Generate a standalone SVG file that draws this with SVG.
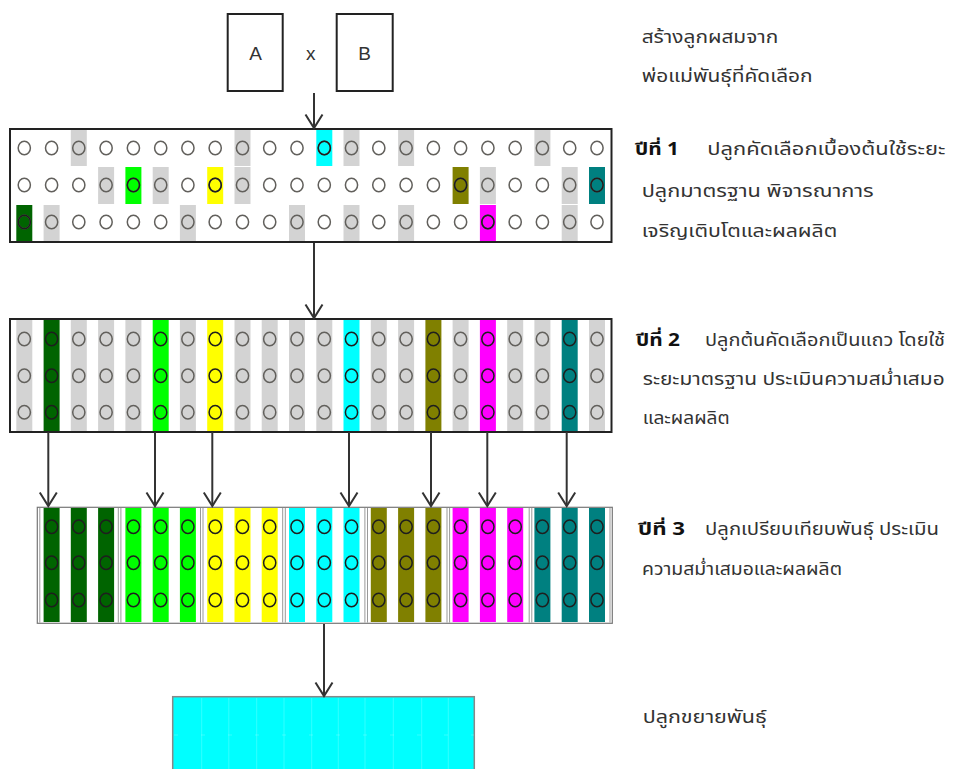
<svg xmlns="http://www.w3.org/2000/svg" xmlns:xlink="http://www.w3.org/1999/xlink" width="958" height="769" viewBox="0 0 958 769">
<style>
.box{fill:none;stroke:#222;stroke-width:2}
.pbox{fill:#fff;stroke:#222;stroke-width:2}
.g{fill:#d3d3d3}
.dg{fill:#006400}.lm{fill:#00ff00}.ye{fill:#ffff00}.cy{fill:#00ffff}.ol{fill:#808000}.mg{fill:#ff00ff}.tl{fill:#008080}
.c{fill:none;stroke:#62605c;stroke-width:1.5}
.cd{fill:none;stroke:#1e1e1e;stroke-width:1.5}
.conn{stroke:#333;stroke-width:2;fill:none}
.t{font-family:Tahoma,'Noto Sans Thai','Leelawadee UI','Noto Sans',sans-serif;font-size:17px;fill:#333}
.b{font-weight:bold;fill:#111}
.lat{font-family:'Liberation Sans',Arial,sans-serif;font-size:19px;fill:#333}
.g3{fill:none;stroke:#999;stroke-width:1}
</style>
<defs>
<marker id="ah" markerUnits="userSpaceOnUse" orient="auto" overflow="visible" refX="0" refY="0" markerWidth="20" markerHeight="20">
<path d="M-13.5,-8.5 L0,0 L-13.5,8.5" fill="none" stroke="#333" stroke-width="2"/>
</marker>
<g id="col1"><ellipse cx="0" cy="148" rx="6.1" ry="6.8"/><ellipse cx="0" cy="185" rx="6.1" ry="6.8"/><ellipse cx="0" cy="222" rx="6.1" ry="6.8"/></g>
<g id="col2"><ellipse cx="0" cy="339" rx="6.1" ry="6.8"/><ellipse cx="0" cy="375.7" rx="6.1" ry="6.8"/><ellipse cx="0" cy="412.3" rx="6.1" ry="6.8"/></g>
<g id="col3"><ellipse cx="0" cy="526.7" rx="6.1" ry="6.8"/><ellipse cx="0" cy="562.7" rx="6.1" ry="6.8"/><ellipse cx="0" cy="600" rx="6.1" ry="6.8"/></g>
<ellipse id="dot" cx="0" cy="0" rx="6.1" ry="6.8"/>
</defs>
<rect width="958" height="769" fill="#fff"/>

<g id="parentA"><rect class="pbox" x="227.7" y="14" width="55" height="77"/><text class="lat" x="255.5" y="60" text-anchor="middle">A</text></g>
<g id="cross"><text class="lat" x="310.7" y="60" text-anchor="middle">x</text></g>
<g id="parentB"><rect class="pbox" x="336.7" y="14" width="56" height="77"/><text class="lat" x="364.7" y="60" text-anchor="middle">B</text></g>

<g id="year1-plot">
<rect x="10" y="129" width="601.5" height="113" fill="#fff"/>
<rect class="g" x="70.8" y="130" width="16" height="36"/>
<rect class="g" x="234.5" y="130" width="16" height="36"/>
<rect class="cy" x="316.3" y="130" width="16" height="36"/>
<rect class="g" x="343.5" y="130" width="16" height="36"/>
<rect class="g" x="398.1" y="130" width="16" height="36"/>
<rect class="g" x="534.4" y="130" width="16" height="36"/>
<rect class="g" x="98.1" y="167" width="16" height="37"/>
<rect class="lm" x="125.4" y="167" width="16" height="37"/>
<rect class="g" x="152.7" y="167" width="16" height="37"/>
<rect class="ye" x="207.2" y="167" width="16" height="37"/>
<rect class="g" x="234.5" y="167" width="16" height="37"/>
<rect class="ol" x="452.6" y="167" width="16" height="37"/>
<rect class="g" x="479.9" y="167" width="16" height="37"/>
<rect class="g" x="561.7" y="167" width="16" height="37"/>
<rect class="tl" x="589" y="167" width="16" height="37"/>
<rect class="dg" x="16.3" y="205" width="16" height="36"/>
<rect class="g" x="43.6" y="205" width="16" height="36"/>
<rect class="g" x="179.9" y="205" width="16" height="36"/>
<rect class="g" x="289" y="205" width="16" height="36"/>
<rect class="g" x="343.5" y="205" width="16" height="36"/>
<rect class="g" x="398.1" y="205" width="16" height="36"/>
<rect class="mg" x="479.9" y="205" width="16" height="36"/>
<rect class="g" x="561.7" y="205" width="16" height="36"/>
<g class="c">
<use href="#col1" x="24.3"/><use href="#col1" x="51.6"/><use href="#col1" x="78.8"/><use href="#col1" x="106.1"/><use href="#col1" x="133.4"/><use href="#col1" x="160.7"/><use href="#col1" x="187.9"/><use href="#col1" x="215.2"/><use href="#col1" x="242.5"/><use href="#col1" x="269.7"/><use href="#col1" x="297"/><use href="#col1" x="324.3"/><use href="#col1" x="351.5"/><use href="#col1" x="378.8"/><use href="#col1" x="406.1"/><use href="#col1" x="433.4"/><use href="#col1" x="460.6"/><use href="#col1" x="487.9"/><use href="#col1" x="515.2"/><use href="#col1" x="542.4"/><use href="#col1" x="569.7"/><use href="#col1" x="597"/>
</g>
<g class="cd">
<use href="#dot" x="324.3" y="148"/><use href="#dot" x="133.4" y="185"/><use href="#dot" x="215.2" y="185"/><use href="#dot" x="460.6" y="185"/><use href="#dot" x="597" y="185"/><use href="#dot" x="24.3" y="222"/><use href="#dot" x="487.9" y="222"/>
</g>
<rect class="box" x="10" y="129" width="601.5" height="113"/>
</g>

<g id="year2-plot">
<rect x="10" y="319" width="601.5" height="113" fill="#fff"/>
<g>
<rect class="g" x="16.3" y="320" width="16" height="111"/>
<rect class="dg" x="43.6" y="320" width="16" height="111"/>
<rect class="g" x="70.8" y="320" width="16" height="111"/>
<rect class="g" x="98.1" y="320" width="16" height="111"/>
<rect class="g" x="125.4" y="320" width="16" height="111"/>
<rect class="lm" x="152.7" y="320" width="16" height="111"/>
<rect class="g" x="179.9" y="320" width="16" height="111"/>
<rect class="ye" x="207.2" y="320" width="16" height="111"/>
<rect class="g" x="234.5" y="320" width="16" height="111"/>
<rect class="g" x="261.7" y="320" width="16" height="111"/>
<rect class="g" x="289" y="320" width="16" height="111"/>
<rect class="g" x="316.3" y="320" width="16" height="111"/>
<rect class="cy" x="343.5" y="320" width="16" height="111"/>
<rect class="g" x="370.8" y="320" width="16" height="111"/>
<rect class="g" x="398.1" y="320" width="16" height="111"/>
<rect class="ol" x="425.4" y="320" width="16" height="111"/>
<rect class="g" x="452.6" y="320" width="16" height="111"/>
<rect class="mg" x="479.9" y="320" width="16" height="111"/>
<rect class="g" x="507.2" y="320" width="16" height="111"/>
<rect class="g" x="534.4" y="320" width="16" height="111"/>
<rect class="tl" x="561.7" y="320" width="16" height="111"/>
<rect class="g" x="589" y="320" width="16" height="111"/>
</g>
<g class="c">
<use href="#col2" x="24.3"/><use href="#col2" x="78.8"/><use href="#col2" x="106.1"/><use href="#col2" x="133.4"/><use href="#col2" x="187.9"/><use href="#col2" x="242.5"/><use href="#col2" x="269.7"/><use href="#col2" x="297"/><use href="#col2" x="324.3"/><use href="#col2" x="378.8"/><use href="#col2" x="406.1"/><use href="#col2" x="460.6"/><use href="#col2" x="515.2"/><use href="#col2" x="542.4"/><use href="#col2" x="597"/>
</g>
<g class="cd">
<use href="#col2" x="51.6"/><use href="#col2" x="160.7"/><use href="#col2" x="215.2"/><use href="#col2" x="351.5"/><use href="#col2" x="433.4"/><use href="#col2" x="487.9"/><use href="#col2" x="569.7"/>
</g>
<rect class="box" x="10" y="319" width="601.5" height="113"/>
</g>

<g id="year3-plot">
<rect x="37.3" y="507.3" width="575" height="116" fill="#fff" stroke="#777" stroke-width="1.2"/>
<g class="dg"><rect x="43.6" y="508" width="16" height="114"/><rect x="70.8" y="508" width="16" height="114"/><rect x="98.1" y="508" width="16" height="114"/></g>
<g class="lm"><rect x="125.4" y="508" width="16" height="114"/><rect x="152.7" y="508" width="16" height="114"/><rect x="179.9" y="508" width="16" height="114"/></g>
<g class="ye"><rect x="207.2" y="508" width="16" height="114"/><rect x="234.5" y="508" width="16" height="114"/><rect x="261.7" y="508" width="16" height="114"/></g>
<g class="cy"><rect x="289" y="508" width="16" height="114"/><rect x="316.3" y="508" width="16" height="114"/><rect x="343.5" y="508" width="16" height="114"/></g>
<g class="ol"><rect x="370.8" y="508" width="16" height="114"/><rect x="398.1" y="508" width="16" height="114"/><rect x="425.4" y="508" width="16" height="114"/></g>
<g class="mg"><rect x="452.6" y="508" width="16" height="114"/><rect x="479.9" y="508" width="16" height="114"/><rect x="507.2" y="508" width="16" height="114"/></g>
<g class="tl"><rect x="534.4" y="508" width="16" height="114"/><rect x="561.7" y="508" width="16" height="114"/><rect x="589" y="508" width="16" height="114"/></g>
<g class="cd">
<use href="#col3" x="51.6"/><use href="#col3" x="78.8"/><use href="#col3" x="106.1"/><use href="#col3" x="133.4"/><use href="#col3" x="160.7"/><use href="#col3" x="187.9"/><use href="#col3" x="215.2"/><use href="#col3" x="242.5"/><use href="#col3" x="269.7"/><use href="#col3" x="297"/><use href="#col3" x="324.3"/><use href="#col3" x="351.5"/><use href="#col3" x="378.8"/><use href="#col3" x="406.1"/><use href="#col3" x="433.4"/><use href="#col3" x="460.6"/><use href="#col3" x="487.9"/><use href="#col3" x="515.2"/><use href="#col3" x="542.4"/><use href="#col3" x="569.7"/><use href="#col3" x="597"/>
</g>
<g class="g3">
<path d="M39.8 508V622.6M118.3 508V622.6M120.9 508V622.6M200.5 508V622.6M203 508V622.6M282.7 508V622.6M285.3 508V622.6M364.9 508V622.6M367.5 508V622.6M447 508V622.6M449.6 508V622.6M529.2 508V622.6M531.8 508V622.6M610 508V622.6"/>
</g>
</g>

<g id="multiplication-plot">
<rect x="172.7" y="696.7" width="301.6" height="90" fill="#00ffff" stroke="#888" stroke-width="1.5"/>
<g stroke="#fff" stroke-opacity="0.2" stroke-width="1">
<path d="M201.7 698V769M228.8 698V769M256.7 698V769M284 698V769M311.7 698V769M338.3 698V769M365 698V769M393.3 698V769M421.7 698V769M448.3 698V769"/>
<path d="M174 735H474" stroke-dasharray="4 23"/>
</g>
</g>

<g id="connectors">
<line class="conn" x1="314" y1="93" x2="314" y2="128" marker-end="url(#ah)"/>
<line class="conn" x1="314" y1="243" x2="314" y2="318" marker-end="url(#ah)"/>
<line class="conn" x1="48.3" y1="432" x2="48.3" y2="506" marker-end="url(#ah)"/>
<line class="conn" x1="155" y1="432" x2="155" y2="506" marker-end="url(#ah)"/>
<line class="conn" x1="212.3" y1="432" x2="212.3" y2="506" marker-end="url(#ah)"/>
<line class="conn" x1="349" y1="432" x2="349" y2="506" marker-end="url(#ah)"/>
<line class="conn" x1="431" y1="432" x2="431" y2="506" marker-end="url(#ah)"/>
<line class="conn" x1="487.3" y1="432" x2="487.3" y2="506" marker-end="url(#ah)"/>
<line class="conn" x1="566.7" y1="432" x2="566.7" y2="506" marker-end="url(#ah)"/>
<line class="conn" x1="324" y1="624" x2="324" y2="696" marker-end="url(#ah)"/>
</g>

<g id="label-cross">
<text class="t" x="641.7" y="42.5" textLength="136.6" lengthAdjust="spacingAndGlyphs">สร้างลูกผสมจาก</text>
<text class="t" x="641.7" y="82" textLength="171" lengthAdjust="spacingAndGlyphs">พ่อแม่พันธุ์ที่คัดเลือก</text>
</g>
<g id="label-year1">
<text class="t b" x="635" y="155" textLength="44" lengthAdjust="spacingAndGlyphs">ปีที่ 1</text>
<text class="t" x="707.3" y="155" textLength="238" lengthAdjust="spacingAndGlyphs">ปลูกคัดเลือกเบื้องต้นใช้ระยะ</text>
<text class="t" x="641.7" y="197" textLength="232" lengthAdjust="spacingAndGlyphs">ปลูกมาตรฐาน พิจารณาการ</text>
<text class="t" x="641.7" y="237.3" textLength="195.6" lengthAdjust="spacingAndGlyphs">เจริญเติบโตและผลผลิต</text>
</g>
<g id="label-year2">
<text class="t b" x="636" y="345.5" textLength="44" lengthAdjust="spacingAndGlyphs">ปีที่ 2</text>
<text class="t" x="705" y="345.5" textLength="240" lengthAdjust="spacingAndGlyphs">ปลูกต้นคัดเลือกเป็นแถว โดยใช้</text>
<text class="t" x="642.7" y="385" textLength="302" lengthAdjust="spacingAndGlyphs">ระยะมาตรฐาน ประเมินความสม่ำเสมอ</text>
<text class="t" x="642.7" y="424" textLength="87" lengthAdjust="spacingAndGlyphs">และผลผลิต</text>
</g>
<g id="label-year3">
<text class="t b" x="638" y="535" textLength="47" lengthAdjust="spacingAndGlyphs">ปีที่ 3</text>
<text class="t" x="705" y="535" textLength="234" lengthAdjust="spacingAndGlyphs">ปลูกเปรียบเทียบพันธุ์ ประเมิน</text>
<text class="t" x="642" y="575" textLength="200" lengthAdjust="spacingAndGlyphs">ความสม่ำเสมอและผลผลิต</text>
</g>
<g id="label-multiply">
<text class="t" x="642.7" y="723" textLength="124" lengthAdjust="spacingAndGlyphs">ปลูกขยายพันธุ์</text>
</g>
</svg>
